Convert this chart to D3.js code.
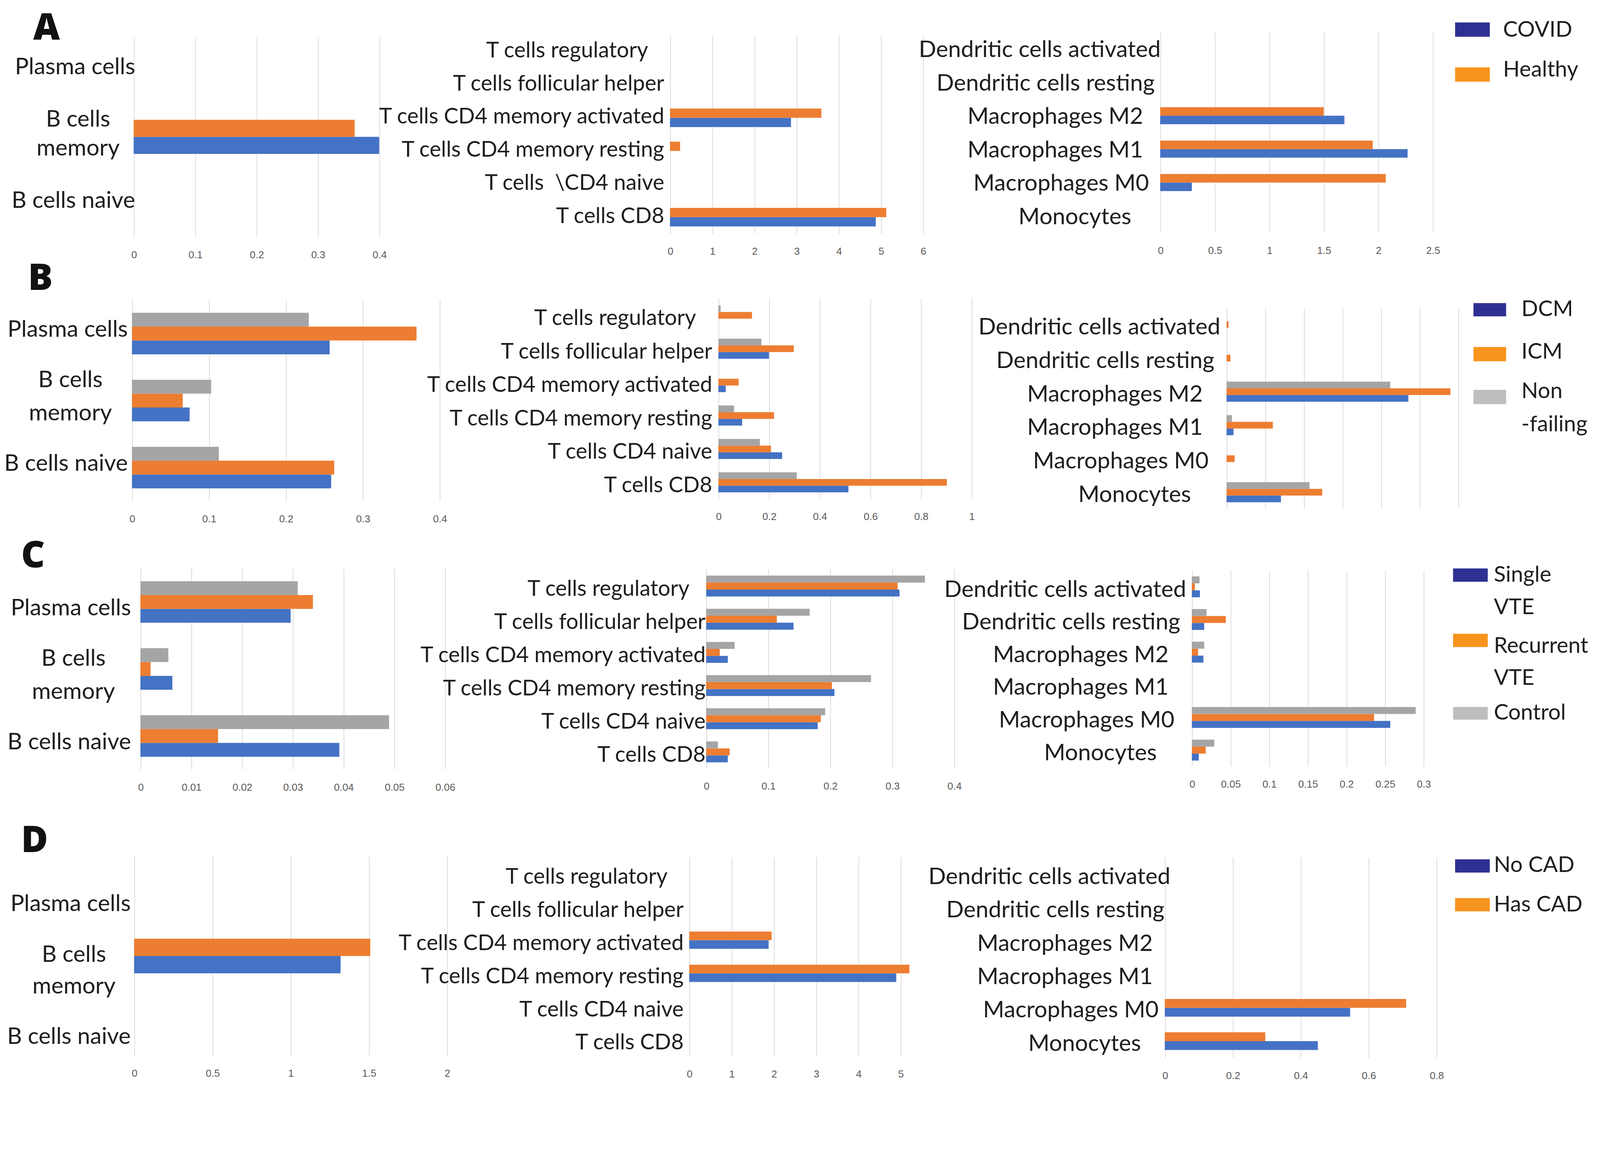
<!DOCTYPE html>
<html>
<head>
<meta charset="utf-8">
<script src="https://cdn.jsdelivr.net/npm/d3@7"></script>
<style>
html, body { margin: 0; padding: 0; background: #fff; overflow: hidden; }
svg { display: block; }
</style>
</head>
<body>
<div id="fig"></div>
<script>
// category labels, top to bottom ("|" = line break)
var leftCats = ["Plasma cells", "B cells|memory", "B cells naive"];
var midCats = ["T cells regulatory   ", "T cells follicular helper", "T cells CD4 memory activated",
  "T cells CD4 memory resting", "T cells CD4 naive", "T cells CD8"];
var midCatsA = ["T cells regulatory   ", "T cells follicular helper", "T cells CD4 memory activated",
  "T cells CD4 memory resting", "T cells  \\CD4 naive", "T cells CD8"];
var rightCats = ["Dendritic cells activated", "Dendritic cells resting ", "Macrophages M2   ",
  "Macrophages M1   ", "Macrophages M0  ", "Monocytes     "];

// legends
var legendA = ["COVID", "Healthy"];
var legendB = ["DCM", "ICM", "Non|-failing"];
var legendC = ["Single|VTE", "Recurrent|VTE", "Control"];
var legendD = ["No CAD", "Has CAD"];

// A : COVID vs Healthy
var aLeftCovid = [0, 0.40, 0];
var aLeftHealthy = [0, 0.36, 0];
var aMidCovid = [0, 0, 2.87, 0, 0, 4.88];
var aMidHealthy = [0, 0, 3.59, 0.24, 0, 5.13];
var aRightCovid = [0, 0, 1.69, 2.27, 0.29, 0];
var aRightHealthy = [0, 0, 1.5, 1.95, 2.07, 0];

// B : DCM / ICM / Non-failing
var bLeftDcm = [0.257, 0.075, 0.259];
var bLeftIcm = [0.37, 0.066, 0.263];
var bLeftNf = [0.23, 0.103, 0.113];
var bMidDcm = [0, 0.2, 0.029, 0.094, 0.252, 0.514];
var bMidIcm = [0.133, 0.298, 0.08, 0.22, 0.208, 0.903];
var bMidNf = [0.009, 0.17, 0, 0.062, 0.164, 0.31];
var bRightDcm = [0, 0, 0.2355, 0.009, 0, 0.0705];
var bRightIcm = [0.0025, 0.005, 0.29, 0.06, 0.0105, 0.124];
var bRightNf = [0, 0, 0.212, 0.007, 0, 0.1075];

// C : Single VTE / Recurrent VTE / Control
var cLeftSingle = [0.0296, 0.0063, 0.0392];
var cLeftRecur = [0.034, 0.002, 0.0153];
var cLeftCtrl = [0.031, 0.0055, 0.049];
var cMidSingle = [0.312, 0.141, 0.035, 0.207, 0.180, 0.035];
var cMidRecur = [0.309, 0.114, 0.022, 0.203, 0.185, 0.038];
var cMidCtrl = [0.353, 0.167, 0.046, 0.266, 0.192, 0.019];
var cRightSingle = [0.0105, 0.016, 0.015, 0, 0.257, 0.009];
var cRightRecur = [0.004, 0.044, 0.008, 0, 0.236, 0.018];
var cRightCtrl = [0.010, 0.019, 0.016, 0, 0.29, 0.029];

// D : No CAD / Has CAD
var dLeftNo = [0, 1.32, 0];
var dLeftHas = [0, 1.51, 0];
var dMidNo = [0, 0, 1.88, 4.9, 0, 0];
var dMidHas = [0, 0, 1.95, 5.21, 0, 0];
var dRightNo = [0, 0, 0, 0, 0.546, 0.451];
var dRightHas = [0, 0, 0, 0, 0.711, 0.296];

// tick labels
var aLeftTicks = [0, 0.1, 0.2, 0.3, 0.4];
var aMidTicks = [0, 1, 2, 3, 4, 5, 6];
var aRightTicks = [0, 0.5, 1, 1.5, 2, 2.5];
var bLeftTicks = [0, 0.1, 0.2, 0.3, 0.4];
var bMidTicks = [0, 0.2, 0.4, 0.6, 0.8, 1];
var bRightTicks = [0, 0.05, 0.1, 0.15, 0.2, 0.25, 0.3]; // unlabelled in the figure
var cLeftTicks = [0, 0.01, 0.02, 0.03, 0.04, 0.05, 0.06];
var cMidTicks = [0, 0.1, 0.2, 0.3, 0.4];
var cRightTicks = [0, 0.05, 0.1, 0.15, 0.2, 0.25, 0.3];
var dLeftTicks = [0, 0.5, 1, 1.5, 2];
var dMidTicks = [0, 1, 2, 3, 4, 5];
var dRightTicks = [0, 0.2, 0.4, 0.6, 0.8];

//styles
var barColors = ["#4472C4", "#ED7D31", "#A5A5A5"];
var swatchColors = ["#2E3192", "#F7941D", "#BCBEC0"];
var gridColor = "#D9D9D9";
var tickColor = "#595959";
var textColor = "#1E1E1E";
var labelFont = "Lato, 'Open Sans', sans-serif";
var labelSize = 22.5;
var midLabelSize = 21.3;
var tickSize = 11.8;
var legendSize = 21.5;

// work in units of a 1568 px wide layout, the viewBox scales it to the window width
var vbW = 1568, vbH = 1073.6;
var windowWidth = window.innerWidth;

var svg = d3.select("#fig").append("svg")
  .attr("width", windowWidth)
  .attr("height", windowWidth * vbH / vbW)
  .attr("preserveAspectRatio", "xMinYMin meet")
  .attr("viewBox", "0 0 " + vbW + " " + vbH);

svg.append("rect").attr("width", vbW).attr("height", vbH).attr("fill", "#fff");

var rows = [
  { letter: "A", lx: 32.5, ly: 39,
    legend: { names: legendA, sx: 1426, sw: 34, tx: 1473,
      sy: [22, 66], sh: [14, 14], base: [[36], [75]] },
    charts: [
      { cats: leftCats, series: [aLeftCovid, aLeftHealthy], ticks: aLeftTicks, fs: labelSize,
        x0: 131, x1: 371.6, top: 35.9, bottom: 232.3, frac: 0.51, labelX: 132.5, shift: -4, memX: 76.5, memGap: 28 },
      { cats: midCatsA, series: [aMidCovid, aMidHealthy], ticks: aMidTicks, fs: midLabelSize,
        x0: 656.6, x1: 904.5, top: 34.3, bottom: 229, frac: 0.56, labelX: 651, shift: -2 },
      { cats: rightCats, series: [aRightCovid, aRightHealthy], ticks: aRightTicks, fs: labelSize,
        x0: 1137, x1: 1404, top: 31.5, bottom: 228, frac: 0.51, labelX: 1137.5, shift: 0 }
    ] },
  { letter: "B", lx: 27.5, ly: 284,
    legend: { names: legendB, sx: 1444, sw: 32, tx: 1491,
      sy: [297, 340, 382], sh: [13, 14, 14], base: [[309.6], [351.6], [390, 422.6]] },
    charts: [
      { cats: leftCats, series: [bLeftDcm, bLeftIcm, bLeftNf], ticks: bLeftTicks, fs: labelSize,
        x0: 129.3, x1: 430.8, top: 294, bottom: 491, frac: 0.62, labelX: 125.3, shift: -5, memX: 69, memGap: 32.5 },
      { cats: midCats, series: [bMidDcm, bMidIcm, bMidNf], ticks: bMidTicks, fs: midLabelSize,
        x0: 704, x1: 952, top: 292.6, bottom: 489, frac: 0.6, labelX: 698, shift: 2 },
      { cats: rightCats, series: [bRightDcm, bRightIcm, bRightNf], ticks: bRightTicks, noLabels: true, fs: labelSize,
        x0: 1202, x1: 1429, top: 301.7, bottom: 498.7, frac: 0.6, labelX: 1196, shift: 1.5 }
    ] },
  { letter: "C", lx: 20.7, ly: 556,
    legend: { names: legendC, sx: 1424, sw: 34, tx: 1464,
      sy: [557, 621, 692.7], sh: [13, 13, 12.5], base: [[570, 601.6], [639.6, 671], [705]] },
    charts: [
      { cats: leftCats, series: [cLeftSingle, cLeftRecur, cLeftCtrl], ticks: cLeftTicks, fs: labelSize,
        x0: 137.6, x1: 436, top: 557, bottom: 754, frac: 0.62, labelX: 128.4, shift: 5, memX: 72, memGap: 32.5 },
      { cats: midCats, series: [cMidSingle, cMidRecur, cMidCtrl], ticks: cMidTicks, fs: midLabelSize,
        x0: 692, x1: 935, top: 558, bottom: 753, frac: 0.63, labelX: 691.5, shift: 2 },
      { cats: rightCats, series: [cRightSingle, cRightRecur, cRightCtrl], ticks: cRightTicks, fs: labelSize,
        x0: 1168, x1: 1395, top: 559, bottom: 751, frac: 0.64, labelX: 1162.5, shift: 1.7 }
    ] },
  { letter: "D", lx: 20.7, ly: 835,
    legend: { names: legendD, sx: 1426, sw: 34, tx: 1464,
      sy: [842, 880], sh: [13, 13], base: [[854.6], [893]] },
    charts: [
      { cats: leftCats, series: [dLeftNo, dLeftHas], ticks: dLeftTicks, fs: labelSize,
        x0: 131.4, x1: 438, top: 839, bottom: 1034.5, frac: 0.52, labelX: 128.1, shift: 13, memX: 72.5, memGap: 31 },
      { cats: midCats, series: [dMidNo, dMidHas], ticks: dMidTicks, fs: midLabelSize,
        x0: 675.4, x1: 882.5, top: 840, bottom: 1035, frac: 0.52, labelX: 670, shift: 2 },
      { cats: rightCats, series: [dRightNo, dRightHas], ticks: dRightTicks, fs: labelSize,
        x0: 1141.5, x1: 1407.6, top: 840.5, bottom: 1036.5, frac: 0.53, labelX: 1147, shift: 1.4 }
    ] }
];

rows.forEach(function (row) {
  svg.append("text")
    .attr("x", row.lx)
    .attr("y", row.ly)
    .attr("font-family", "'Open Sans', Lato, sans-serif")
    .attr("font-weight", 800)
    .attr("font-size", 36)
    .attr("fill", "#111")
    .text(row.letter);

  row.charts.forEach(function (c) { drawChart(svg.append("g"), c); });
  drawLegend(svg.append("g"), row.legend);
});

function drawChart(g, c) {
  var x = d3.scaleLinear()
    .domain([0, c.ticks[c.ticks.length - 1]])
    .range([c.x0, c.x1]);
  var y = d3.scaleBand()
    .domain(d3.range(c.cats.length))
    .range([c.top, c.bottom]);
  var n = c.series.length;
  var groupH = y.bandwidth() * c.frac;
  // excel draws the first series at the bottom of each group
  var inner = d3.scaleBand()
    .domain(d3.range(n).reverse())
    .range([0, groupH]);

  var axis = d3.axisBottom(x)
    .tickValues(c.ticks)
    .tickFormat(c.noLabels ? function () { return ""; } : function (d) { return d; })
    .tickSize(-(c.bottom - c.top))
    .tickPadding(13.6);

  var axG = g.append("g")
    .attr("transform", "translate(0," + c.bottom + ")")
    .attr("font-family", labelFont)
    .attr("font-size", tickSize)
    .call(axis);
  axG.select(".domain").remove();
  axG.selectAll(".tick line").attr("stroke", gridColor).attr("stroke-width", 0.7);
  axG.selectAll(".tick text").attr("fill", tickColor);

  c.series.forEach(function (vals, si) {
    g.selectAll(null)
      .data(vals)
      .enter().append("rect")
      .attr("x", x(0))
      .attr("y", function (d, i) { return y(i) + (y.bandwidth() - groupH) / 2 + inner(si); })
      .attr("width", function (d) { return x(d) - x(0); })
      .attr("height", inner.bandwidth())
      .attr("fill", barColors[si]);
  });

  var capHalf = c.fs * 0.36;
  c.cats.forEach(function (cat, i) {
    var cy = y(i) + y.bandwidth() / 2 + c.shift + capHalf;
    var parts = cat.split("|");
    var t = g.append("text")
      .attr("font-family", labelFont)
      .attr("font-size", c.fs)
      .attr("fill", textColor)
      .style("white-space", "pre");
    if (parts.length === 1) {
      t.attr("x", c.labelX).attr("y", cy).attr("text-anchor", "end").text(cat);
    } else {
      t.attr("text-anchor", "middle");
      parts.forEach(function (p, k) {
        t.append("tspan")
          .attr("x", c.memX)
          .attr("y", cy + (k - (parts.length - 1) / 2) * c.memGap)
          .text(p);
      });
    }
  });
}

function drawLegend(g, L) {
  L.names.forEach(function (name, i) {
    g.append("rect")
      .attr("x", L.sx)
      .attr("y", L.sy[i])
      .attr("width", L.sw)
      .attr("height", L.sh[i])
      .attr("fill", swatchColors[i]);
    var t = g.append("text")
      .attr("font-family", labelFont)
      .attr("font-size", legendSize)
      .attr("fill", textColor);
    name.split("|").forEach(function (p, k) {
      t.append("tspan").attr("x", L.tx).attr("y", L.base[i][k]).text(p);
    });
  });
}
</script>
</body>
</html>
